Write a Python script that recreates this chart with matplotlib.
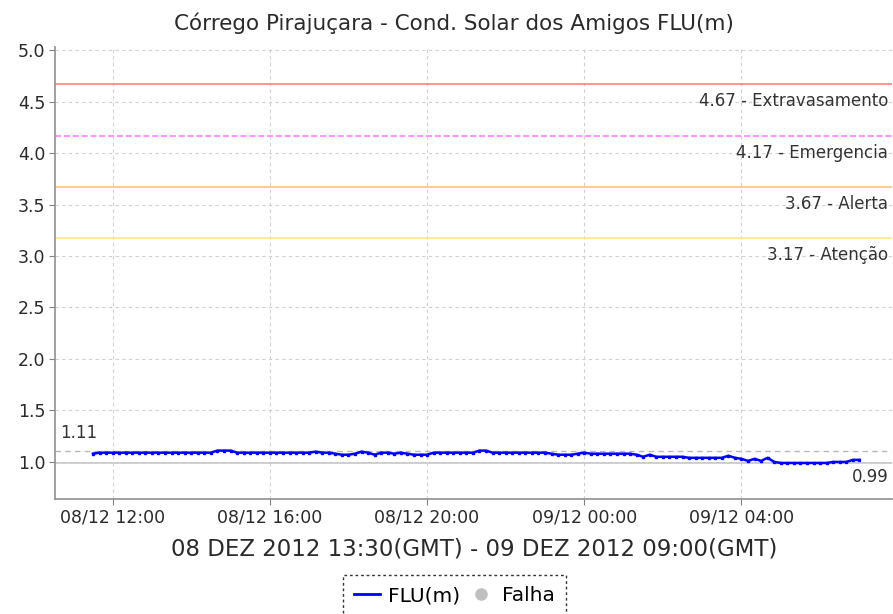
import numpy as np
import matplotlib
matplotlib.use('Agg')
import matplotlib.pyplot as plt
import matplotlib.dates as mdates
from matplotlib.lines import Line2D
from datetime import datetime, timedelta

# river level readings every 10 minutes, 08/12 11:30 -> 09/12 07:00 (local)
start = datetime(2012, 12, 8, 11, 30)
flu = [1.08, 1.09, 1.09,
       1.09, 1.09, 1.09, 1.09, 1.09, 1.09,   # 12h
       1.09, 1.09, 1.09, 1.09, 1.09, 1.09,   # 13h
       1.09, 1.09, 1.09, 1.09, 1.11, 1.11,   # 14h
       1.11, 1.09, 1.09, 1.09, 1.09, 1.09,   # 15h
       1.09, 1.09, 1.09, 1.09, 1.09, 1.09,   # 16h
       1.09, 1.10, 1.09, 1.09, 1.08, 1.07,   # 17h
       1.07, 1.08, 1.10, 1.09, 1.07, 1.09,   # 18h
       1.09, 1.08, 1.09, 1.08, 1.07, 1.07,   # 19h
       1.07, 1.09, 1.09, 1.09, 1.09, 1.09,   # 20h
       1.09, 1.09, 1.11, 1.11, 1.09, 1.09,   # 21h
       1.09, 1.09, 1.09, 1.09, 1.09, 1.09,   # 22h
       1.09, 1.08, 1.07, 1.07, 1.07, 1.08,   # 23h
       1.09, 1.08, 1.08, 1.08, 1.08, 1.08,   # 00h
       1.08, 1.08, 1.07, 1.05, 1.07, 1.05,   # 01h
       1.05, 1.05, 1.05, 1.05, 1.04, 1.04,   # 02h
       1.04, 1.04, 1.04, 1.04, 1.06, 1.04,   # 03h
       1.03, 1.01, 1.03, 1.01, 1.04, 1.00,   # 04h
       0.99, 0.99, 0.99, 0.99, 0.99, 0.99,   # 05h
       0.99, 0.99, 1.00, 1.00, 1.00, 1.02,   # 06h
       1.02]
times = [start + timedelta(minutes=10 * i) for i in range(len(flu))]

# alert levels
levels = [4.67, 4.17, 3.67, 3.17]
level_names = ['Extravasamento', 'Emergencia', 'Alerta', 'Atenção']
level_colors = ['#ff8080', '#ff80ff', '#ffc080', '#ffe680']
level_styles = ['-', '--', '-', '-']

fig = plt.figure(figsize=(8.93, 6.14), dpi=100)
ax = fig.add_axes([0.0616, 0.1873, 0.9374, 0.7362])

x0 = datetime(2012, 12, 8, 10, 32)
x1 = datetime(2012, 12, 9, 7, 50)
ax.set_xlim(x0, x1)
ax.set_ylim(0.64, 5.03)

ax.grid(True, color='#d0d0d0', linestyle=(0, (3, 3)), linewidth=0.8)
ax.set_yticks(np.arange(1.0, 5.01, 0.5))
ax.yaxis.set_major_formatter(matplotlib.ticker.FormatStrFormatter('%.1f'))
ax.xaxis.set_major_locator(mdates.HourLocator(byhour=[0, 4, 8, 12, 16, 20]))
ax.xaxis.set_major_formatter(mdates.DateFormatter('%d/%m %H:%M'))
ax.tick_params(colors='#808080', labelcolor='#2a2a2a', length=4, pad=3)
ax.tick_params(axis='y', labelsize=12.5)
ax.tick_params(axis='x', labelsize=12.5)

for s in ['top', 'right']:
    ax.spines[s].set_visible(False)
for s in ['left', 'bottom']:
    ax.spines[s].set_color('#909090')
    ax.spines[s].set_linewidth(1.2)

for lv, name, col, ls in zip(levels, level_names, level_colors, level_styles):
    ax.axhline(lv, color=col, linestyle=ls, linewidth=1.2)
    ax.text(x1 - timedelta(minutes=6), lv - 0.165, '%.2f - %s' % (lv, name),
            ha='right', va='center', fontsize=12, color='#333333')

# max / min markers
vmax = max(flu)
vmin = min(flu)
ax.axhline(vmax, color='#b8b8b8', linestyle=(0, (4, 3)), linewidth=1)
ax.axhline(vmin, color='#c8c8c8', linestyle='-', linewidth=1.2)
ax.text(x0 + timedelta(minutes=8), vmax + 0.17, '%.2f' % vmax,
        ha='left', va='center', fontsize=12, color='#333333')
ax.text(x1 - timedelta(minutes=6), vmin - 0.14, '%.2f' % vmin,
        ha='right', va='center', fontsize=12, color='#333333')

ax.plot(times, flu, color='#0000ff', linewidth=1.8, marker='s',
        markersize=1.5, zorder=5)

fig.text(0.5085, 0.962, 'Córrego Pirajuçara - Cond. Solar dos Amigos FLU(m)',
         ha='center', va='center', fontsize=15.5, color='#2a2a2a')
fig.text(0.531, 0.106, '08 DEZ 2012 13:30(GMT) - 09 DEZ 2012 09:00(GMT)',
         ha='center', va='center', fontsize=16.5, color='#2a2a2a')

handles = [Line2D([], [], color='#0000ff', linewidth=2),
           Line2D([], [], color='#c0c0c0', marker='o', linestyle='none',
                  markersize=8)]
leg = fig.legend(handles, ['FLU(m)', 'Falha'], loc='upper center',
                 bbox_to_anchor=(0.509, 0.0635), ncol=2, frameon=True,
                 fontsize=14.5, handlelength=1.3, handletextpad=0.4,
                 columnspacing=0.4, borderpad=0.55, borderaxespad=0,
                 fancybox=False)
leg.get_frame().set_edgecolor('#000000')
leg.get_frame().set_linestyle((0, (2, 2)))
leg.get_frame().set_linewidth(1)

fig.savefig('out.png', dpi=100)
